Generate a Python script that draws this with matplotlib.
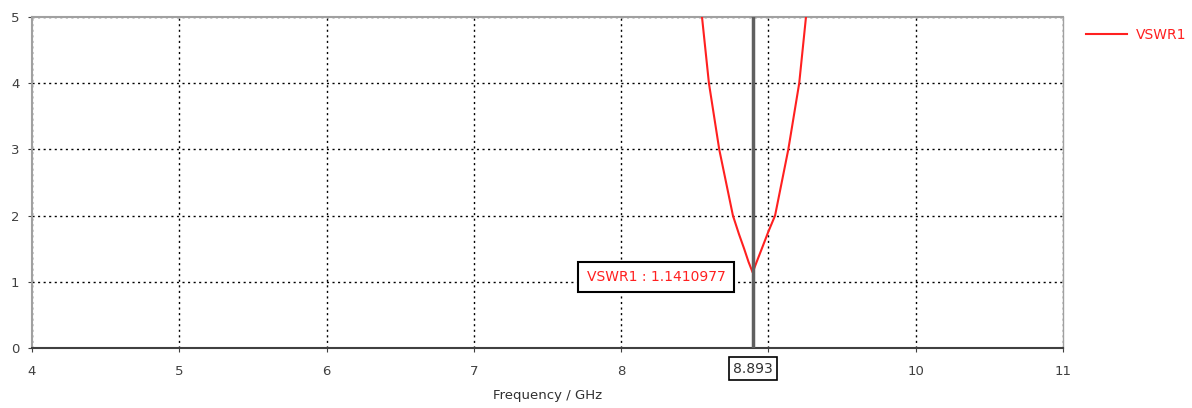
import matplotlib.pyplot as plt
import numpy as np

# VSWR curve
freq = [8.52, 8.549, 8.596, 8.666, 8.759, 8.80, 8.835, 8.865, 8.893, 8.92, 8.955, 9.0, 9.045, 9.135, 9.209, 9.255, 9.28]
vswr = [5.4, 5.0, 4.0, 3.0, 2.0, 1.72, 1.5, 1.3, 1.141, 1.3, 1.5, 1.76, 2.0, 3.0, 4.0, 5.0, 5.4]
marker_f = 8.893
marker_v = 1.1410977

xticks = [4, 5, 6, 7, 8, 9, 10, 11]
xlabels = ['4', '5', '6', '7', '8', '', '10', '11']  # 9 is hidden under the marker box
yticks = [0, 1, 2, 3, 4, 5]

fig = plt.figure(figsize=(11.92, 4.08), dpi=100)
ax = fig.add_axes([32/1192, 60/408, 1031/1192, 331/408])

ax.plot(freq, vswr, color='#ff2020', lw=1.5, label='VSWR1', zorder=3)
ax.axvline(marker_f, color='#606060', lw=2.5, zorder=4)

ax.set_xlim(4, 11)
ax.set_ylim(0, 5)
ax.set_xticks(xticks)
ax.set_xticklabels(xlabels)
ax.set_yticks(yticks)
ax.grid(True, color='black', ls=(0, (1.5, 2.5)), lw=1)
ax.tick_params(length=3, labelsize=9.5, colors='#404040')
ax.tick_params(axis='x', pad=9)
ax.tick_params(axis='y', pad=6)

for s in ['top', 'left', 'right']:
    ax.spines[s].set_color('#a0a0a0')
    ax.spines[s].set_linewidth(1.5)
ax.spines['right'].set_linewidth(1)
ax.spines['bottom'].set_color('#404040')
ax.spines['bottom'].set_linewidth(1.5)

ax.set_xlabel('Frequency / GHz', fontsize=9.5, color='#303030', labelpad=8)

# marker labels
ax.text(marker_f, -0.31, '8.893', ha='center', va='center', fontsize=10, color='#303030',
        bbox=dict(boxstyle='square,pad=0.3', fc='white', ec='black', lw=1.2), clip_on=False)
ax.text(8.236, 1.07, 'VSWR1 : 1.1410977', ha='center', va='center', fontsize=10, color='#ff2020',
        bbox=dict(boxstyle='square,pad=0.6', fc='white', ec='black', lw=1.5), zorder=5)

leg = fig.legend(loc='upper left', bbox_to_anchor=(1080/1192, 1 - 22/408), frameon=False,
                 fontsize=10, handlelength=3, handletextpad=0.6, borderaxespad=0)
for t in leg.get_texts():
    t.set_color('#ff2020')

plt.savefig('out.png', dpi=100)
